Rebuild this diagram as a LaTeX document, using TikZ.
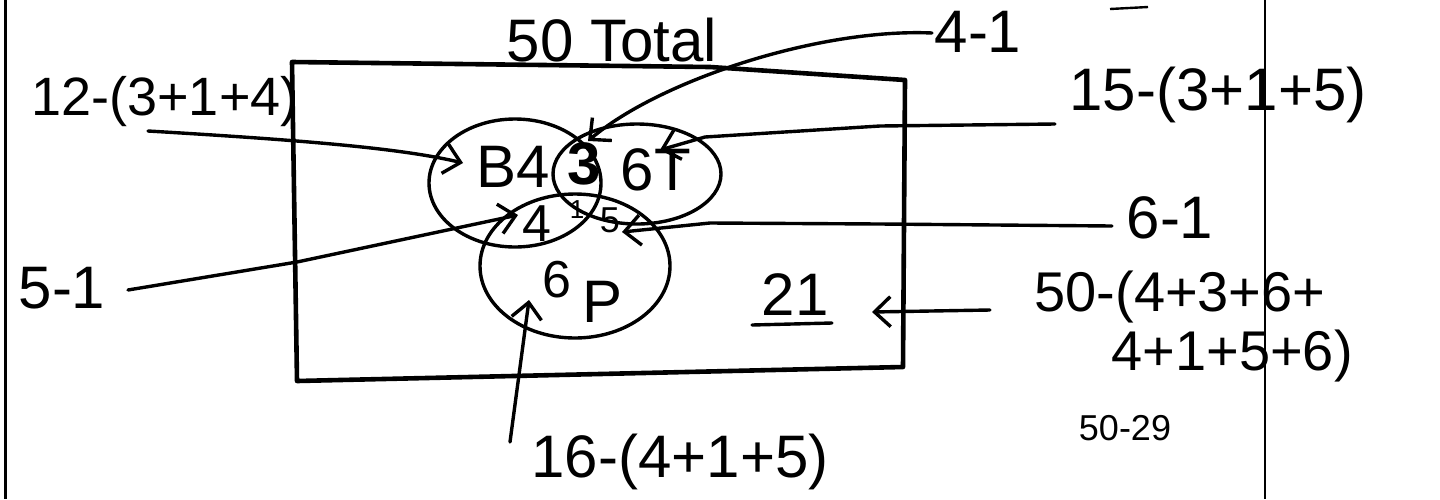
\documentclass[tikz,border=0pt]{standalone}
\usepackage{fontspec}
\setmainfont{Liberation Sans}
\usetikzlibrary{arrows.meta}
\begin{document}
\begin{tikzpicture}[x=0.5pt,y=-0.5pt,
  ink/.style={line width=1.7pt, line cap=round, line join=round},
  frame/.style={line width=2.3pt, line cap=round, line join=round},
  lbl/.style={font=\fontsize{30}{32}\selectfont, inner sep=0pt},
  vlbl/.style={font=\fontsize{30}{32}\selectfont, inner sep=0pt},
  mid/.style={font=\fontsize{26}{27}\selectfont, inner sep=0pt},
  tiny/.style={font=\fontsize{13}{14}\selectfont, inner sep=0pt},
  small/.style={font=\fontsize{18}{19}\selectfont, inner sep=0pt},
  pointer/.style={ink, -{Straight Barb[length=8pt,width=15pt,line width=1.7pt]}}]
\useasboundingbox (0,0) rectangle (1440,499);

% page edges
\draw[line width=1.5pt] (5,0) -- (5,499);
\draw[line width=1.1pt] (1265,0) -- (1265,499);
\draw[line width=1.2pt] (1110,9) -- (1148,7);

% universe box
\draw[frame] (292,62) -- (710,67) -- (905,80) -- (903,367) -- (297,381) -- cycle;
\node[lbl] (total) at (612,40) {50 Total};

% Venn circles
\draw[ink] (515,183) ellipse [x radius=86, y radius=64];
\draw[ink] (637,174) ellipse [x radius=84, y radius=50];
\draw[ink] (575,266) ellipse [x radius=95, y radius=72];

% region labels
\node[vlbl] (b4) at (513,167) {B4};
\node[vlbl] (r3) at (584,164) {\textbf{3}};
\node[vlbl] (t6) at (656,170) {6T};
\node[mid] (bp) at (537,224) {4};
\node[tiny] (all) at (577,210) {1};
\node[small] (tp) at (610,220) {5};
\node[mid] (p6) at (557,280) {6};
\node[vlbl] (pp) at (603,302) {P};
\node[lbl] (none) at (795,295) {21};
\draw[ink] (752,325) -- (832,323);

% annotations
\node[font=\fontsize{27}{28}\selectfont, inner sep=0pt] (a12) at (165,102) {12-(3+1+4)};
\node[lbl] (a41) at (978,32) {4-1};
\node[lbl] (a15) at (1218,95) {15-(3+1+5)};
\node[lbl] (a61) at (1170,218) {6-1};
\node[lbl] (a51) at (62,288) {5-1};
\node[font=\fontsize{28}{29}\selectfont, inner sep=0pt] (a50a) at (1180,297) {50-(4+3+6+};
\node[font=\fontsize{28}{29}\selectfont, inner sep=0pt] (a50b) at (1232,356) {4+1+5+6)};
\node[small] (a5029) at (1125,428) {50-29};
\node[lbl] (a16) at (680,462) {16-(4+1+5)};

% connector ends
\coordinate (s12) at (148,131);
\coordinate (e12) at (463,163);
\coordinate (s41) at (932,33);
\coordinate (e41) at (588,141);
\coordinate (s15) at (1055,124);
\coordinate (e15) at (660,150);
\coordinate (s61) at (1112,226);
\coordinate (e61) at (622,232);
\coordinate (s51) at (128,290);
\coordinate (e51) at (518,215);
\coordinate (s50) at (990,310);
\coordinate (e50) at (872,312);
\coordinate (s16) at (510,442);
\coordinate (e16) at (529,300);

% connectors
\draw[pointer] (s12) .. controls (300,140) and (400,148) .. (e12);
\draw[pointer] (s41) .. controls (820,28) and (660,80) .. (e41);
\draw[pointer] (s15) -- (880,126) -- (705,137) -- (e15);
\draw[pointer] (s61) -- (880,224) -- (710,223) -- (e61);
\draw[pointer] (s51) -- (297,262) -- (e51);
\draw[pointer] (s50) -- (e50);
\draw[pointer] (s16) -- (e16);
\end{tikzpicture}
\end{document}
